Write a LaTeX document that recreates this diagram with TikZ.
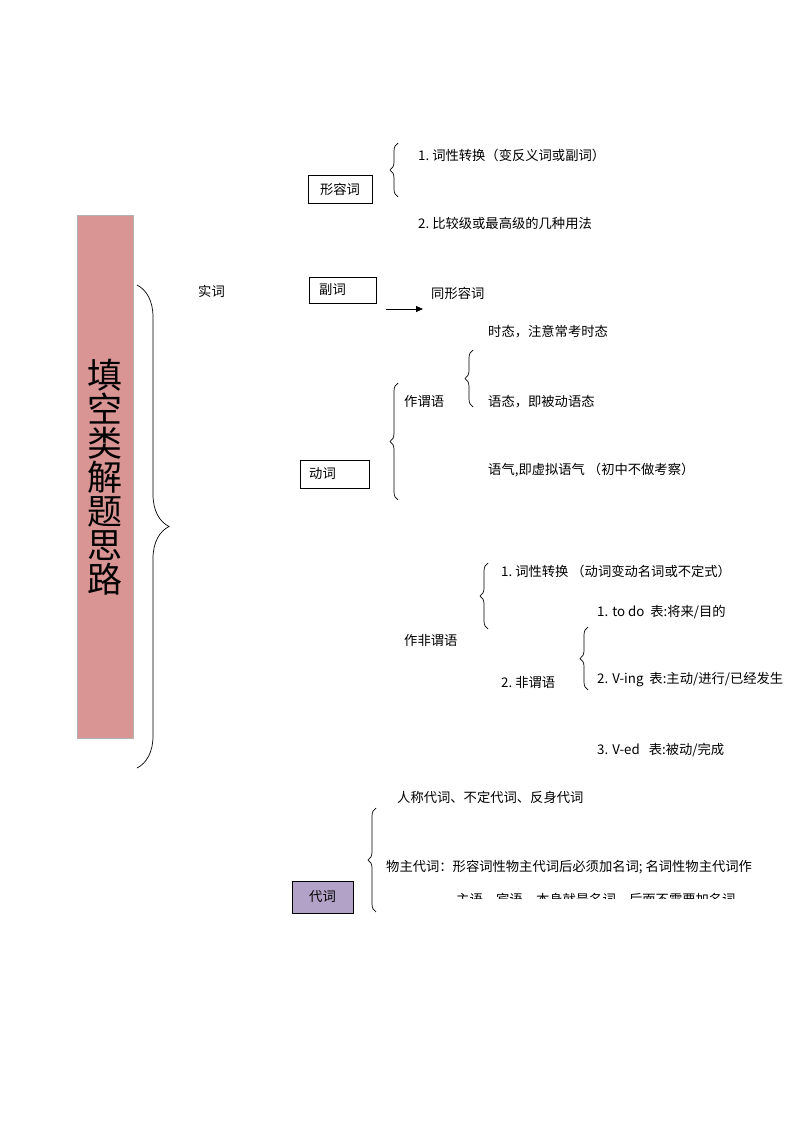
\documentclass[tikz,border=0pt]{standalone}
\usepackage{fontspec}
\newfontfamily\cjk{Noto Sans CJK SC}
\usetikzlibrary{decorations.pathreplacing,arrows.meta}
\definecolor{pinkbar}{HTML}{D99594}
\definecolor{purplebox}{HTML}{B2A2C7}
\tikzset{
  lbl/.style={anchor=west,inner sep=0pt,font=\cjk\fontsize{13.3}{15}\selectfont},
  wbox/.style={draw,line width=0.8pt,font=\cjk\fontsize{13.3}{15}\selectfont},
  brc/.style={decorate,decoration={brace,amplitude=8pt},line width=0.7pt},
}
\begin{document}
\begin{tikzpicture}[x=1pt,y=-1pt]
\useasboundingbox (0,0) rectangle (794,1123);
\fill[white] (0,0) rectangle (794,1123);
% title bar
\node[draw=gray!60,fill=pinkbar,minimum width=56pt,minimum height=523pt,inner sep=0pt] (bar) at (105,476.5) {};
\node[align=center,font=\cjk\fontsize{35}{37}\selectfont] (title) at (105,477) {填\\[-3pt]空\\[-3pt]类\\[-3pt]解\\[-3pt]题\\[-3pt]思\\[-3pt]路};
\draw[brc,decoration={amplitude=32pt}] (137,285) -- (137,768);
\node[lbl] (shici) at (198,291) {实词};
% 形容词
\node[wbox,minimum width=64pt,minimum height=28pt,inner sep=0pt] (adj) at (340,189) {形容词};
\draw[brc] (398,197) -- (398,143);
\node[lbl] (a1) at (418,155) {1.\ 词性转换（变反义词或副词）};
\node[lbl] (a2) at (418,223) {2.\ 比较级或最高级的几种用法};
% 副词
\node[wbox,minimum width=67pt,minimum height=26pt,inner sep=0pt] (adv) at (342.5,290) {\hspace*{-20pt}副词};
\coordinate (arrs) at (386,309);
\coordinate (arre) at (423,309);
\draw[-{Triangle[length=7pt,width=6pt]},line width=0.8pt] (arrs) -- (arre);
\node[lbl] (same) at (431,293) {同形容词};
% 动词
\node[lbl] (t1) at (488,332) {时态，注意常考时态};
\draw[brc] (473,407) -- (473,350);
\node[lbl] (zwy) at (404,401) {作谓语};
\node[lbl] (t2) at (488,402) {语态，即被动语态};
\draw[brc] (398,500) -- (398,383);
\node[wbox,minimum width=69pt,minimum height=28pt,inner sep=0pt] (verb) at (334.5,474) {\hspace*{-24pt}动词};
\node[lbl] (t3) at (488,470) {语气,即虚拟语气 （初中不做考察）};
% 非谓语
\node[lbl] (n1) at (501,571) {1.\ 词性转换 （动词变动名词或不定式）};
\draw[brc] (488,629) -- (488,563);
\node[lbl] (zfwy) at (404,640) {作非谓语};
\node[lbl] (v1) at (597,612) {1. to do\ \ 表:将来/目的};
\draw[brc] (588,690) -- (588,627);
\node[lbl] (n2) at (501,682) {2.\ 非谓语};
\node[lbl] (v2) at (597,680) {2. V-ing\ \ 表:主动/进行/已经发生};
\node[lbl] (v3) at (597,750) {3. V-ed\ \ \ 表:被动/完成};
% 代词
\node[lbl] (p1) at (397,797) {人称代词、不定代词、反身代词};
\draw[brc] (376,912) -- (376,808);
\node[lbl] (p2) at (386,867) {物主代词：形容词性物主代词后必须加名词; 名词性物主代词作};
\begin{scope}
\clip (440,885) rectangle (780,898);
\node[lbl] (p3) at (456,900) {主语、宾语，本身就是名词，后面不需要加名词};
\end{scope}
\node[draw,line width=0.8pt,fill=purplebox,minimum width=61pt,minimum height=32pt,inner sep=0pt,font=\cjk\fontsize{13.3}{15}\selectfont] (pron) at (322.5,897) {代词};
\end{tikzpicture}
\end{document}
